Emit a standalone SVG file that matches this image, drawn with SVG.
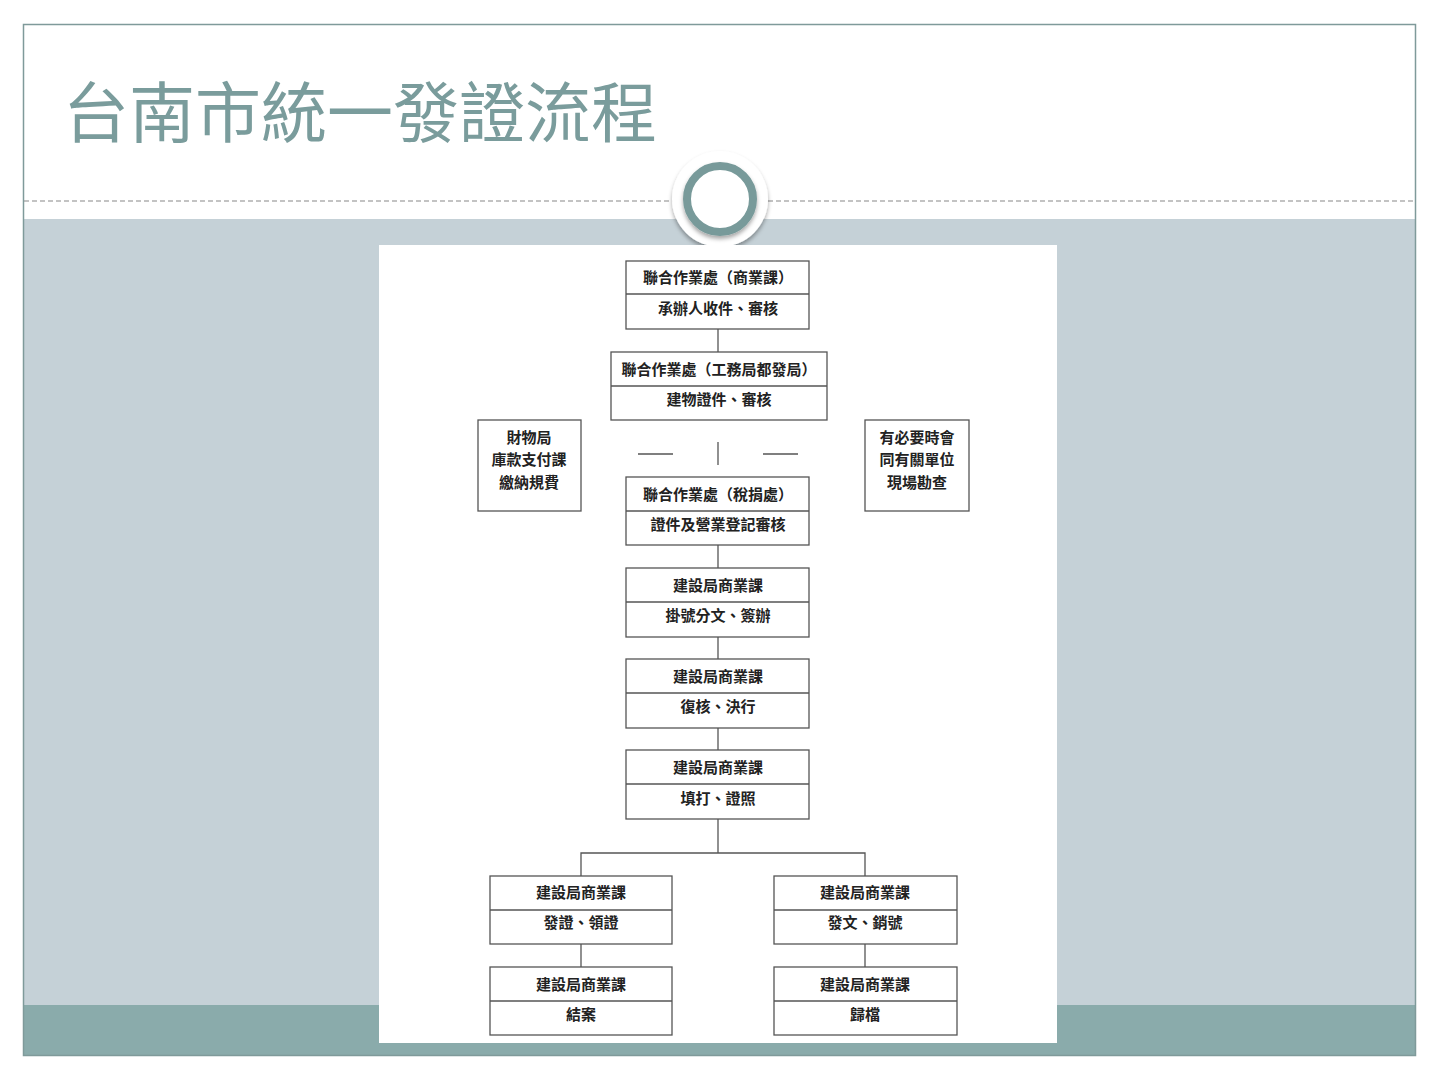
<svg xmlns="http://www.w3.org/2000/svg" width="1440" height="1080" viewBox="0 0 1440 1080">
<defs>
<style>
.title{font-family:"Noto Sans CJK TC","Noto Sans CJK SC",sans-serif;font-size:66px;font-weight:400;fill:#7a9c9c}
.box{fill:#fff;stroke:#555;stroke-width:1.3}
.div{stroke:#555;stroke-width:1.3}
.t{font-family:"Noto Sans CJK TC","Noto Sans CJK SC",sans-serif;font-size:15px;font-weight:700;fill:#222;text-anchor:middle;dominant-baseline:central}
.c{stroke:#555;stroke-width:1.3;fill:none}
</style>
<filter id="sh" x="-30%" y="-30%" width="160%" height="160%"><feDropShadow dx="0" dy="3" stdDeviation="2" flood-color="#000" flood-opacity="0.35"/></filter>
</defs>
<rect x="0" y="0" width="1440" height="1080" fill="#fff"/>
<rect x="23" y="219" width="1392" height="786" fill="#c5d1d7"/>
<rect x="23" y="1005" width="1392" height="50" fill="#8aabab"/>
<rect x="23.5" y="24.5" width="1392" height="1031" fill="none" stroke="#7f9a9a" stroke-width="1.5"/>
<line x1="24" y1="201" x2="1415" y2="201" stroke="#888" stroke-width="1.2" stroke-dasharray="5,3"/>
<circle cx="720" cy="199" r="48" fill="#fff" filter="url(#sh)"/>
<circle cx="720" cy="199" r="33" fill="#fff" stroke="#789a9a" stroke-width="8" filter="url(#sh)"/>
<text class="title" x="63" y="137">台南市統一發證流程</text>
<rect x="379" y="245" width="678" height="798" fill="#fff"/>
<g id="connectors">
<line class="c" x1="718" y1="329" x2="718" y2="352"/>
<line class="c" x1="638" y1="454" x2="673" y2="454"/>
<line class="c" x1="718" y1="442" x2="718" y2="465"/>
<line class="c" x1="763" y1="454" x2="798" y2="454"/>
<line class="c" x1="718" y1="545" x2="718" y2="568"/>
<line class="c" x1="718" y1="637" x2="718" y2="659"/>
<line class="c" x1="718" y1="728" x2="718" y2="750"/>
<polyline class="c" points="718,819 718,853"/>
<polyline class="c" points="581,876 581,853 865,853 865,876"/>
<line class="c" x1="581" y1="944" x2="581" y2="967"/>
<line class="c" x1="865" y1="944" x2="865" y2="967"/>
</g>
<g id="n1"><rect class="box" x="626" y="261" width="183" height="68"/><line class="div" x1="626" y1="294" x2="809" y2="294"/><text class="t" x="718" y="276">聯合作業處（商業課）</text><text class="t" x="718" y="307">承辦人收件、審核</text></g>
<g id="n2"><rect class="box" x="611" y="352" width="216" height="68"/><line class="div" x1="611" y1="386" x2="827" y2="386"/><text class="t" x="719" y="368">聯合作業處（工務局都發局）</text><text class="t" x="719" y="398">建物證件、審核</text></g>
<g id="nL"><rect class="box" x="478" y="420" width="103" height="91"/><text class="t" x="529" y="436">財物局</text><text class="t" x="529" y="458">庫款支付課</text><text class="t" x="529" y="481">繳納規費</text></g>
<g id="nR"><rect class="box" x="865" y="420" width="104" height="91"/><text class="t" x="917" y="436">有必要時會</text><text class="t" x="917" y="458">同有關單位</text><text class="t" x="917" y="481">現場勘查</text></g>
<g id="n3"><rect class="box" x="626" y="477" width="183" height="68"/><line class="div" x1="626" y1="511" x2="809" y2="511"/><text class="t" x="718" y="493">聯合作業處（稅捐處）</text><text class="t" x="718" y="523">證件及營業登記審核</text></g>
<g id="n4"><rect class="box" x="626" y="568" width="183" height="69"/><line class="div" x1="626" y1="602" x2="809" y2="602"/><text class="t" x="718" y="584">建設局商業課</text><text class="t" x="718" y="614">掛號分文、簽辦</text></g>
<g id="n5"><rect class="box" x="626" y="659" width="183" height="69"/><line class="div" x1="626" y1="693" x2="809" y2="693"/><text class="t" x="718" y="675">建設局商業課</text><text class="t" x="718" y="705">復核、決行</text></g>
<g id="n6"><rect class="box" x="626" y="750" width="183" height="69"/><line class="div" x1="626" y1="784" x2="809" y2="784"/><text class="t" x="718" y="766">建設局商業課</text><text class="t" x="718" y="797">填打、證照</text></g>
<g id="n7"><rect class="box" x="490" y="876" width="182" height="68"/><line class="div" x1="490" y1="910" x2="672" y2="910"/><text class="t" x="581" y="891">建設局商業課</text><text class="t" x="581" y="921">發證、領證</text></g>
<g id="n8"><rect class="box" x="774" y="876" width="183" height="68"/><line class="div" x1="774" y1="910" x2="957" y2="910"/><text class="t" x="865" y="891">建設局商業課</text><text class="t" x="865" y="921">發文、銷號</text></g>
<g id="n9"><rect class="box" x="490" y="967" width="182" height="68"/><line class="div" x1="490" y1="1001" x2="672" y2="1001"/><text class="t" x="581" y="983">建設局商業課</text><text class="t" x="581" y="1013">結案</text></g>
<g id="n10"><rect class="box" x="774" y="967" width="183" height="68"/><line class="div" x1="774" y1="1001" x2="957" y2="1001"/><text class="t" x="865" y="983">建設局商業課</text><text class="t" x="865" y="1013">歸檔</text></g>
</svg>
